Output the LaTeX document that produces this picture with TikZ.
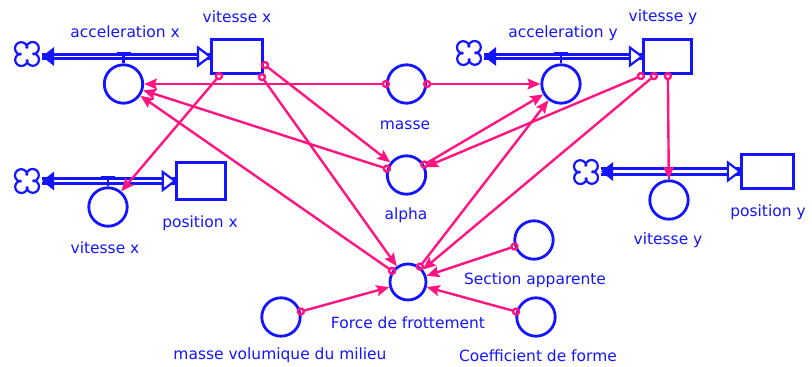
\documentclass[tikz,border=0pt]{standalone}
\usepackage{fontspec}
\setmainfont{DejaVu Sans}
\usetikzlibrary{calc,arrows.meta}
\definecolor{sblue}{RGB}{20,20,255}
\definecolor{spink}{RGB}{255,20,130}
\tikzset{
	aux/.style={circle, draw=sblue, line width=0.7mm, minimum size=9.6mm, inner sep=0pt},
	stock/.style={rectangle, draw=sblue, line width=0.7mm, minimum width=12.8mm, minimum height=8.6mm, inner sep=0pt},
	lbl/.style={text=sblue, font=\fontsize{11}{13}\selectfont, inner sep=0pt},
	link/.style={spink, line width=0.6mm, {Circle[open,length=2.1mm,width=2.1mm]}-{Stealth[length=3.2mm,width=2.7mm,inset=0.5mm]}, shorten <=-1.05mm},
	pipe/.style={draw=sblue, line width=0.75mm, double=white},
	source/.style={circle, minimum size=6.4mm, inner sep=0pt},
	valve/.style={sblue, line width=0.7mm},
	cloudsym/.pic={
		\foreach \a in {0,90,180,270}
			\draw[sblue, line width=0.55mm, rotate=\a] (0.1mm,1.4mm) arc[start angle=0, end angle=270, radius=1.55mm];
	},
}
% #1 cloud, #2 stock, #3 rate, #4 gap of the pipe
\newcommand{\flowpipe}[4]{%
	\draw[pipe, double distance=#4] ($(#1.east |- #2.west)+(2,0)$) -- (#2.west);
	\fill[sblue] ($(#1.east |- #2.west)+(2,0)$) -- ++(12,-9.5) -- ++(0,19) -- cycle;
	\draw[sblue, line width=0.55mm, fill=white] (#2.west) -- ++(-12,-9) -- ++(0,18) -- cycle;
	\draw[valve] (#3.north) -- ($(#3.north |- #2.west)+(0,-3.5)$) ++(-7,0) -- ++(14,0);
}

\begin{document}
\begin{tikzpicture}[x=0.025cm, y=-0.025cm]
	\useasboundingbox (0,0) rectangle (812,367);
	%%%%% stocks and clouds %%%%%
	
	\node[stock] (velx) at (237,56.5) {};
	\node[stock, minimum width=12.1mm] (vely) at (667.5,56.5) {};
	\node[stock, minimum width=12.4mm, minimum height=9.4mm] (posx) at (201,181) {};
	\node[stock, minimum width=13.1mm] (posy) at (767.5,171.5) {};
	
	\node[source] (cldax) at (27,54) {};
	\node[source] (clday) at (469,53) {};
	\node[source] (cldpx) at (27,181) {};
	\node[source] (cldpy) at (586,172) {};
	\foreach \c in {cldax,clday,cldpx,cldpy}
		\pic at (\c) {cloudsym};
	
	%%%%% converters %%%%%
	
	\node[aux] (accx) at (123.5,84) {};
	\node[aux] (accy) at (561,84) {};
	\node[aux] (masse) at (406.5,84) {};
	\node[aux] (alpha) at (406.5,175) {};
	\node[aux] (velxa) at (108,207) {};
	\node[aux] (velya) at (669,200) {};
	\node[aux, minimum size=9mm] (force) at (408,282) {};
	\node[aux] (section) at (534,240) {};
	\node[aux] (coeff) at (536,317) {};
	\node[aux] (rho) at (281,317) {};
	
	%%%%% flows %%%%%
	
	\flowpipe{cldax}{velx}{accx}{0.3mm}
	\flowpipe{clday}{vely}{accy}{0.3mm}
	\flowpipe{cldpx}{posx}{velxa}{0.3mm}
	\flowpipe{cldpy}{posy}{velya}{0.6mm}
	
	%%%%% labels %%%%%
	
	\node[lbl] (accxlbl) at (125,32) {acceleration x};
	\node[lbl] (velxlbl) at (237,17) {vitesse x};
	\node[lbl] (accylbl) at (563,33) {acceleration y};
	\node[lbl] (velylbl) at (663,17) {vitesse y};
	\node[lbl] (masselbl) at (405,125) {masse};
	\node[lbl] (alphalbl) at (406,215) {alpha};
	\node[lbl] (posxlbl) at (200,223) {position x};
	\node[lbl] (velxalbl) at (105,248) {vitesse x};
	\node[lbl] (posylbl) at (768,212) {position y};
	\node[lbl] (velyalbl) at (668,240) {vitesse y};
	\node[lbl] (sectionlbl) at (535,280) {Section apparente};
	\node[lbl] (forcelbl) at (408,323) {Force de frottement};
	\node[lbl] (rholbl) at (280,355) {masse volumique du milieu};
	\node[lbl] (coefflbl) at (538,356) {Coefficient de forme};
	
	%%%%% links %%%%%
	
	\draw[link] (masse) -- (accx);
	\draw[link] (masse) -- (accy);
	\draw[link] ($(velx.south west)+(9,1)$) -- (velxa);
	\draw[link] ($(velx.south east)+(-2,2)$) -- (force);
	\draw[link] ($(velx.south east)+(1,-10)$) -- (alpha);
	\draw[link] ($(vely.south west)+(-1,1)$) -- (alpha);
	\draw[link] ($(vely.south west)+(12,1)$) -- (force);
	\draw[link] ($(vely.south west)+(26,1)$) -- (velya);
	\draw[link] (alpha) -- (accx);
	\draw[link] (alpha) -- (accy);
	\draw[link] (force) -- (accx);
	\draw[link] (force) -- (accy);
	\draw[link] (section) -- (force);
	\draw[link] (coeff) -- (force);
	\draw[link] (rho) -- (force);
	
\end{tikzpicture}
\end{document}
